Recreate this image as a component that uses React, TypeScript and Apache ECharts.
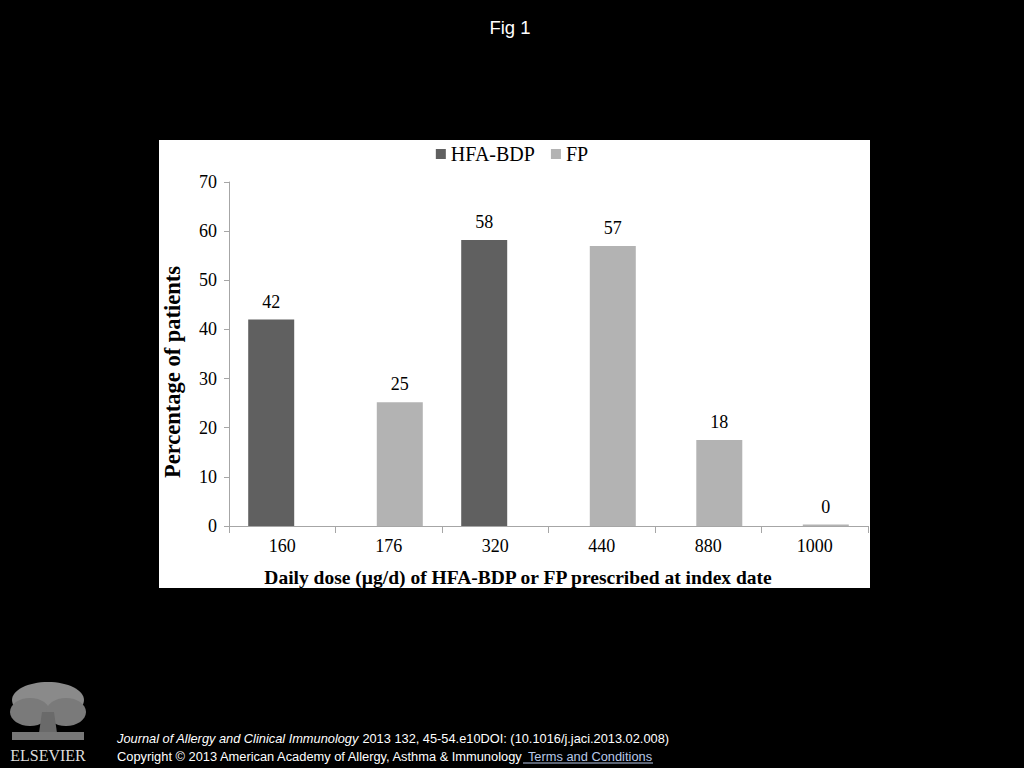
import React, { useEffect, useRef } from "react";
import * as echarts from "echarts";

const categories = ["160", "176", "320", "440", "880", "1000"];
const hfaBdp = [42, null, 58.2, null, null, null];
const fp = [null, 25.2, null, 57, 17.5, 0.3];
const yTicks = { min: 0, max: 70, interval: 10 };
const seriesNames = ["HFA-BDP", "FP"];

const SERIF = "'Liberation Serif', 'Times New Roman', serif";
const SANS = "'Liberation Sans', Arial, sans-serif";

export default function App() {
  const ref = useRef<HTMLDivElement>(null);
  useEffect(() => {
    document.body.style.margin = "0";
    document.body.style.background = "#000";
    const chart = echarts.init(ref.current!, null, { renderer: "svg" });
    const labelCfg = {
      show: true,
      position: "top",
      distance: 9,
      fontFamily: SERIF,
      fontSize: 18,
      color: "#000",
      formatter: (p: any) => String(Math.round(p.value)),
    };
    chart.setOption({
      animation: false,
      backgroundColor: "#000",
      graphic: [
        {
          type: "rect",
          z: -10,
          shape: { x: 159, y: 140, width: 711, height: 448 },
          style: { fill: "#fff" },
        },
        {
          type: "text",
          x: 172,
          y: 372,
          rotation: Math.PI / 2,
          style: {
            text: "Percentage of patients",
            fill: "#000",
            font: `bold 22.5px ${SERIF}`,
            align: "center",
            verticalAlign: "middle",
          },
        },
        {
          type: "text",
          x: 518,
          y: 577,
          style: {
            text: "Daily dose (µg/d) of HFA-BDP or FP prescribed at index date",
            fill: "#000",
            font: `bold 19.5px ${SERIF}`,
            align: "center",
            verticalAlign: "middle",
          },
        },
        {
          type: "text",
          x: 510,
          y: 27,
          style: {
            text: "Fig 1",
            fill: "#fff",
            font: `18.5px ${SANS}`,
            align: "center",
            verticalAlign: "middle",
          },
        },
        {
          type: "text",
          x: 117,
          y: 738,
          style: {
            text: "{i|Journal of Allergy and Clinical Immunology} 2013 132, 45-54.e10DOI: (10.1016/j.jaci.2013.02.008)",
            fill: "#fff",
            font: `12.8px ${SANS}`,
            verticalAlign: "middle",
            rich: {
              i: { fontStyle: "italic", fontSize: 12.8, fontFamily: SANS, fill: "#fff" },
            },
          },
        },
        {
          type: "text",
          x: 117,
          y: 756,
          style: {
            text: "Copyright © 2013 American Academy of Allergy, Asthma & Immunology{t| Terms and Conditions}",
            fill: "#fff",
            font: `12.85px ${SANS}`,
            verticalAlign: "middle",
            rich: {
              t: { fontSize: 12.85, fontFamily: SANS, fill: "#b8c8e8" },
            },
          },
        },
        {
          type: "line",
          shape: { x1: 523, y1: 763, x2: 653, y2: 763 },
          style: { stroke: "#b8c8e8", lineWidth: 1 },
        },
        // Elsevier logo approximation
        {
          type: "group",
          children: [
            { type: "ellipse", shape: { cx: 48, cy: 700, rx: 36, ry: 18 }, style: { fill: "#8a8a8a" } },
            { type: "ellipse", shape: { cx: 30, cy: 712, rx: 20, ry: 14 }, style: { fill: "#7a7a7a" } },
            { type: "ellipse", shape: { cx: 66, cy: 712, rx: 20, ry: 14 }, style: { fill: "#7a7a7a" } },
            { type: "polygon", shape: { points: [[42, 712], [54, 712], [58, 740], [38, 740]] }, style: { fill: "#6a6a6a" } },
            { type: "rect", shape: { x: 12, y: 732, width: 72, height: 8 }, style: { fill: "#777" } },
            {
              type: "text",
              x: 48,
              y: 755,
              style: {
                text: "ELSEVIER",
                fill: "#ddd",
                font: `16px ${SERIF}`,
                align: "center",
                verticalAlign: "middle",
              },
            },
          ],
        },
      ],
      legend: {
        data: seriesNames,
        top: 139,
        left: "center",
        itemWidth: 10,
        itemHeight: 10,
        itemGap: 16,
        icon: "rect",
        textStyle: { fontFamily: SERIF, fontSize: 20, color: "#000" },
      },
      grid: { left: 229, top: 182, width: 639, height: 344 },
      xAxis: {
        type: "category",
        data: categories,
        axisLine: { lineStyle: { color: "#a6a6a6", width: 1 } },
        axisTick: { show: true, length: 7, lineStyle: { color: "#a6a6a6" } },
        axisLabel: { fontFamily: SERIF, fontSize: 18, color: "#000", margin: 11 },
      },
      yAxis: {
        type: "value",
        min: yTicks.min,
        max: yTicks.max,
        interval: yTicks.interval,
        axisLine: { show: true, lineStyle: { color: "#a6a6a6", width: 1 } },
        axisTick: { show: true, length: 5, lineStyle: { color: "#a6a6a6" } },
        splitLine: { show: false },
        axisLabel: { fontFamily: SERIF, fontSize: 18, color: "#000", margin: 12 },
      },
      series: [
        {
          name: seriesNames[0],
          type: "bar",
          data: hfaBdp,
          barWidth: 46,
          barGap: "-52%",
          itemStyle: { color: "#606060" },
          label: labelCfg,
        },
        {
          name: seriesNames[1],
          type: "bar",
          data: fp,
          barWidth: 46,
          barGap: "-52%",
          itemStyle: { color: "#b3b3b3" },
          label: labelCfg,
        },
      ],
    });
    return () => chart.dispose();
  }, []);
  return (
    <div
      ref={ref}
      style={{ position: "fixed", left: 0, top: 0, width: 1024, height: 768 }}
    />
  );
}
